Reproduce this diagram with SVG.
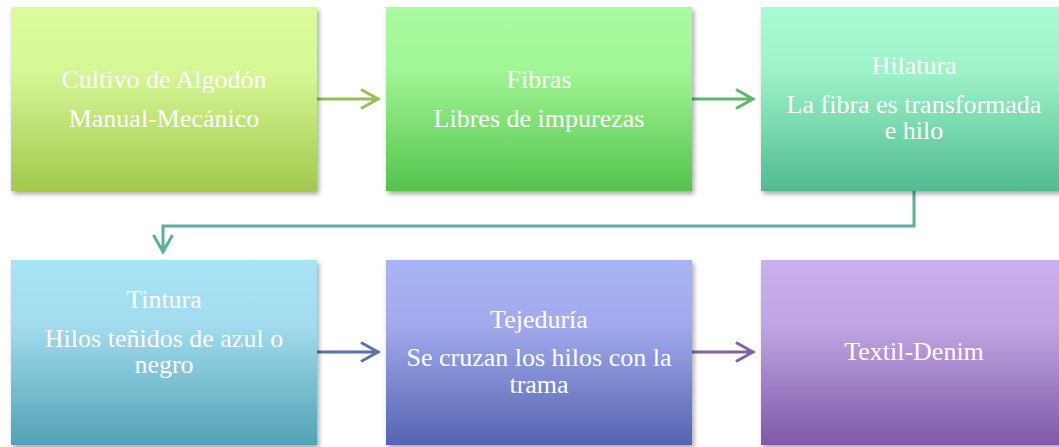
<svg xmlns="http://www.w3.org/2000/svg" width="1059" height="447" viewBox="0 0 1059 447">
<defs>
<filter id="sh" x="-5%" y="-5%" width="115%" height="115%">
<feDropShadow dx="2" dy="3" stdDeviation="2.5" flood-color="#000" flood-opacity="0.35"/>
</filter>
<linearGradient id="g1" x1="0" y1="0" x2="0" y2="1"><stop offset="0" stop-color="#dcfc9c"/><stop offset="0.35" stop-color="#d6f796"/><stop offset="1" stop-color="#a3c84e"/></linearGradient>
<linearGradient id="g2" x1="0" y1="0" x2="0" y2="1"><stop offset="0" stop-color="#a8fca0"/><stop offset="0.35" stop-color="#a0f594"/><stop offset="1" stop-color="#54c44c"/></linearGradient>
<linearGradient id="g3" x1="0" y1="0" x2="0" y2="1"><stop offset="0" stop-color="#a8fcd4"/><stop offset="0.35" stop-color="#9ef2c8"/><stop offset="1" stop-color="#50bc90"/></linearGradient>
<linearGradient id="g4" x1="0" y1="0" x2="0" y2="1"><stop offset="0" stop-color="#a8e4f6"/><stop offset="0.35" stop-color="#a2dcee"/><stop offset="1" stop-color="#52a2b6"/></linearGradient>
<linearGradient id="g5" x1="0" y1="0" x2="0" y2="1"><stop offset="0" stop-color="#a9b4f4"/><stop offset="0.35" stop-color="#a1aaec"/><stop offset="1" stop-color="#5464b0"/></linearGradient>
<linearGradient id="g6" x1="0" y1="0" x2="0" y2="1"><stop offset="0" stop-color="#c8b0ec"/><stop offset="0.35" stop-color="#c0a6e4"/><stop offset="1" stop-color="#8058a8"/></linearGradient>
</defs>
<style>
.box{filter:url(#sh);}
text{font-family:"Liberation Serif","Times New Roman",serif;font-size:26px;fill:#ffffff;text-anchor:middle;}
.c{fill:none;stroke-width:3;stroke-linejoin:miter;}
</style>
<g id="connectors">
<path class="c" stroke="#9cbc58" d="M317 99 H378 M361 89.5 L378 99 L361 108.5"/>
<path class="c" stroke="#5cb868" d="M692 99 H753 M736 89.5 L753 99 L736 108.5"/>
<path class="c" stroke="#5cae9e" d="M914 191 V226 H163 V252 M153.5 235 L163 252 L172.5 235"/>
<path class="c" stroke="#5a72aa" d="M317 352 H378 M361 342.5 L378 352 L361 361.5"/>
<path class="c" stroke="#8262a2" d="M692 352 H753 M736 342.5 L753 352 L736 361.5"/>
</g>
<g id="n1"><rect class="box" x="11" y="7" width="306" height="184" fill="url(#g1)"/><text x="164" y="88">Cultivo de Algodón</text><text x="164" y="127">Manual-Mecánico</text></g>
<g id="n2"><rect class="box" x="386" y="7" width="306" height="184" fill="url(#g2)"/><text x="539" y="88">Fibras</text><text x="539" y="127">Libres de impurezas</text></g>
<g id="n3"><rect class="box" x="761" y="7" width="306" height="184" fill="url(#g3)"/><text x="914" y="74">Hilatura</text><text x="914" y="113">La fibra es transformada</text><text x="914" y="139">e hilo</text></g>
<g id="n4"><rect class="box" x="11" y="260" width="306" height="185" fill="url(#g4)"/><text x="164" y="308">Tintura</text><text x="164" y="347">Hilos teñidos de azul o</text><text x="164" y="373">negro</text></g>
<g id="n5"><rect class="box" x="386" y="260" width="306" height="185" fill="url(#g5)"/><text x="539" y="328">Tejeduría</text><text x="539" y="366">Se cruzan los hilos con la</text><text x="539" y="393">trama</text></g>
<g id="n6"><rect class="box" x="761" y="260" width="306" height="185" fill="url(#g6)"/><text x="914" y="360">Textil-Denim</text></g>
</svg>
